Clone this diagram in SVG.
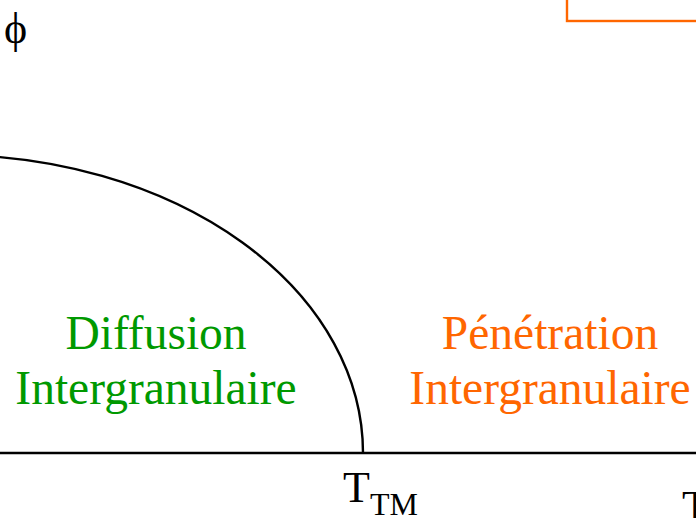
<svg xmlns="http://www.w3.org/2000/svg" width="696" height="518" viewBox="0 0 696 518">
<style>
.t{font-family:"Liberation Serif","Times New Roman",serif;}
.g{fill:#009900;font-size:47.5px;text-anchor:middle;}
.o{fill:#FF6600;font-size:47.5px;text-anchor:middle;}
.k{fill:#000;font-size:44px;}
</style>
<rect width="696" height="518" fill="#fff"/>
<g id="frame">
<rect x="567" y="-20" width="160" height="41" fill="none" stroke="#FF6600" stroke-width="2.4"/>
</g>
<g id="connectors">
<line x1="0" y1="453" x2="696" y2="453" stroke="#000" stroke-width="2.4"/>
<path d="M -50 155 A 413 298 0 0 1 363 453" fill="none" stroke="#000" stroke-width="2.4"/>
</g>
<g id="phi"><text class="t k" x="4" y="43">ϕ</text></g>
<g id="diffusion">
<text class="t g" x="156" y="349">Diffusion</text>
<text class="t g" x="156" y="404">Intergranulaire</text>
</g>
<g id="penetration">
<text class="t o" x="550" y="349">Pénétration</text>
<text class="t o" x="550" y="404">Intergranulaire</text>
</g>
<g id="ttm"><text class="t k" x="343" y="502">T<tspan font-size="32" dy="13">TM</tspan></text></g>
<g id="t2"><text class="t k" x="682" y="521">T</text></g>
</svg>
